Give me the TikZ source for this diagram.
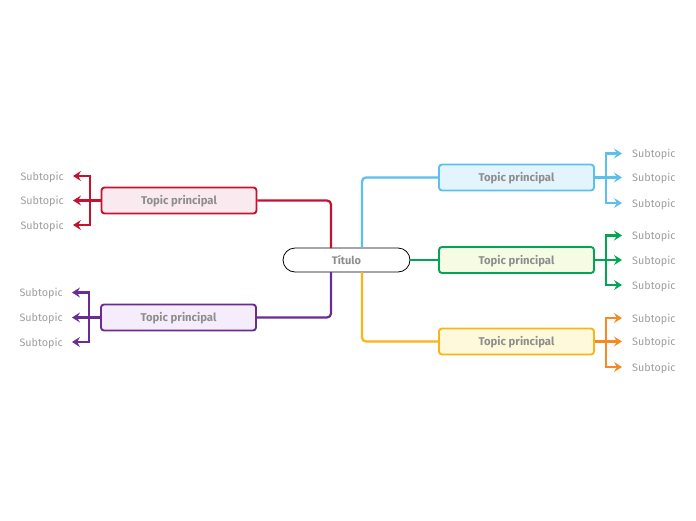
\documentclass[tikz,border=0pt]{standalone}
\usepackage{fontspec}
\setmainfont{Fira Sans}
\usetikzlibrary{arrows.meta}
\definecolor{cred}{HTML}{C41230}
\definecolor{fred}{HTML}{F8EAEF}
\definecolor{cpur}{HTML}{6A2C91}
\definecolor{fpur}{HTML}{F5EDFB}
\definecolor{cblue}{HTML}{5BC0EB}
\definecolor{fblue}{HTML}{E3F4FC}
\definecolor{cgreen}{HTML}{00A651}
\definecolor{fgreen}{HTML}{F6FCE4}
\definecolor{cyel}{HTML}{FBB316}
\definecolor{fyel}{HTML}{FFF9DB}
\definecolor{corg}{HTML}{F58A23}
\definecolor{tgray}{HTML}{8E8E8E}
\definecolor{sgray}{HTML}{9E9E9E}
\tikzset{
  topicbox/.style={draw, line width=1.9pt, rounded corners=3pt, minimum width=155pt, minimum height=26pt, inner sep=0pt, text height=8pt, text depth=0pt, font=\fontsize{11.3}{13}\selectfont\bfseries, text=tgray},
  subl/.style={anchor=east, inner sep=0pt, text height=8pt, text depth=0pt, font=\fontsize{10.8}{13}\selectfont, text=sgray},
  subr/.style={anchor=west, inner sep=0pt, text height=8pt, text depth=0pt, font=\fontsize{10.8}{13}\selectfont, text=sgray},
  conn/.style={line width=2.2pt, rounded corners=4pt},
  branch/.style={line width=2.2pt},
  subarrow/.style={line width=2.2pt, -{Stealth[length=8pt,width=10pt,inset=3pt]}},
}
\begin{document}
\begin{tikzpicture}[x=1pt,y=-1pt]
\useasboundingbox (0,0) rectangle (696,520);
% central
\node[draw, line width=0.8pt, rounded corners=12pt, minimum width=127pt, minimum height=24pt, inner sep=0pt, text height=8pt, text depth=0pt, fill=white, font=\fontsize{11}{13}\selectfont\bfseries, text=tgray] (c) at (346.5,260) {Título};
% topics
\node[topicbox, draw=cred, fill=fred] (tr) at (179,200.5) {Topic principal};
\node[topicbox, draw=cpur, fill=fpur] (tp) at (178.5,317.5) {Topic principal};
\node[topicbox, draw=cblue, fill=fblue] (tb) at (516.5,177.5) {Topic principal};
\node[topicbox, draw=cgreen, fill=fgreen] (tg) at (516.5,260) {Topic principal};
\node[topicbox, draw=cyel, fill=fyel] (ty) at (516.5,341.5) {Topic principal};
% connectors from center
\coordinate (cr) at (331,248);
\coordinate (cp) at (331,272);
\coordinate (cb) at (362,248);
\coordinate (cy) at (362,272);
\draw[conn, cred] (tr.east) -| (cr);
\draw[conn, cpur] (tp.east) -| (cp);
\draw[conn, cblue] (cb) |- (tb.west);
\draw[conn, cyel] (cy) |- (ty.west);
\draw[conn, cgreen] (c.east) -- (tg.west);
% left subtopics red
\node[subl] (r1) at (64,176) {Subtopic};
\node[subl] (r2) at (64,200.5) {Subtopic};
\node[subl] (r3) at (64,225) {Subtopic};
\coordinate (rb) at (90,200.5);
\draw[branch, cred] (tr.west) -- (rb);
\draw[branch, cred] (90,176) -- (90,225);
\draw[subarrow, cred, shorten >=9pt] (rb) |- (r1.east);
\draw[subarrow, cred, shorten >=9pt] (rb) -- (r2.east);
\draw[subarrow, cred, shorten >=9pt] (rb) |- (r3.east);
% left subtopics purple
\node[subl] (p1) at (63,292.5) {Subtopic};
\node[subl] (p2) at (63,317.5) {Subtopic};
\node[subl] (p3) at (63,342) {Subtopic};
\coordinate (pb) at (89,317.5);
\draw[branch, cpur] (tp.west) -- (pb);
\draw[branch, cpur] (89,292.5) -- (89,342);
\draw[subarrow, cpur, shorten >=9pt] (pb) |- (p1.east);
\draw[subarrow, cpur, shorten >=9pt] (pb) -- (p2.east);
\draw[subarrow, cpur, shorten >=9pt] (pb) |- (p3.east);
% right subtopics blue
\node[subr] (b1) at (632,153.5) {Subtopic};
\node[subr] (b2) at (632,177.5) {Subtopic};
\node[subr] (b3) at (632,203) {Subtopic};
\coordinate (bb) at (606,177.5);
\draw[branch, cblue] (tb.east) -- (bb);
\draw[branch, cblue] (606,153.5) -- (606,203);
\draw[subarrow, cblue, shorten >=10pt] (bb) |- (b1.west);
\draw[subarrow, cblue, shorten >=10pt] (bb) -- (b2.west);
\draw[subarrow, cblue, shorten >=10pt] (bb) |- (b3.west);
% right subtopics green
\node[subr] (g1) at (632,235.5) {Subtopic};
\node[subr] (g2) at (632,260) {Subtopic};
\node[subr] (g3) at (632,285) {Subtopic};
\coordinate (gb) at (606,260);
\draw[branch, cgreen] (tg.east) -- (gb);
\draw[branch, cgreen] (606,235.5) -- (606,285);
\draw[subarrow, cgreen, shorten >=10pt] (gb) |- (g1.west);
\draw[subarrow, cgreen, shorten >=10pt] (gb) -- (g2.west);
\draw[subarrow, cgreen, shorten >=10pt] (gb) |- (g3.west);
% right subtopics orange
\node[subr] (o1) at (632,318) {Subtopic};
\node[subr] (o2) at (632,341.5) {Subtopic};
\node[subr] (o3) at (632,367) {Subtopic};
\coordinate (ob) at (606,341.5);
\draw[branch, corg] (ty.east) -- (ob);
\draw[branch, corg] (606,318) -- (606,367);
\draw[subarrow, corg, shorten >=10pt] (ob) |- (o1.west);
\draw[subarrow, corg, shorten >=10pt] (ob) -- (o2.west);
\draw[subarrow, corg, shorten >=10pt] (ob) |- (o3.west);
\end{tikzpicture}
\end{document}
